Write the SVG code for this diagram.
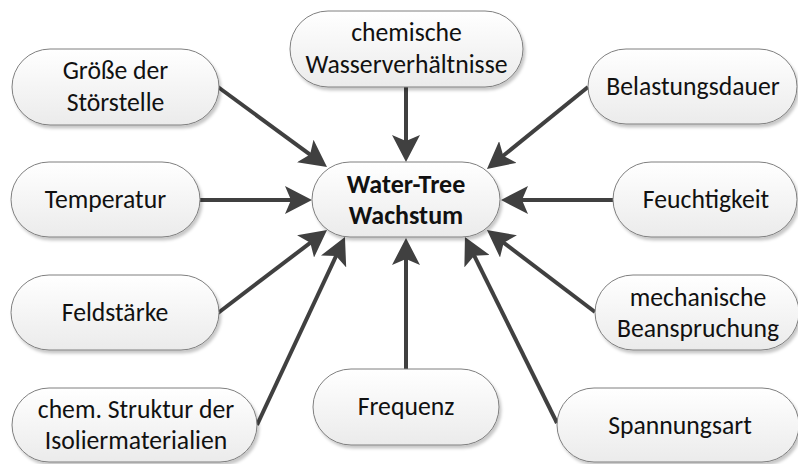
<svg xmlns="http://www.w3.org/2000/svg" width="798" height="464" viewBox="0 0 798 464">
<style>
.box{fill:url(#g);stroke:#7f7f7f;stroke-width:1;filter:url(#sh)}
.t{font-family:"Carlito","Liberation Sans",Arial,sans-serif;font-size:25.7px;fill:#111;text-anchor:middle}
.b{font-weight:bold;font-size:26px}
.c{stroke:#404040;stroke-width:4;fill:none;marker-end:url(#ah)}
</style>
<defs>
<linearGradient id="g" x1="0" y1="0" x2="0" y2="1">
<stop offset="0" stop-color="#ffffff"/>
<stop offset="1" stop-color="#ebebeb"/>
</linearGradient>
<filter id="sh" x="-10%" y="-20%" width="125%" height="150%">
<feDropShadow dx="2" dy="3" stdDeviation="1.5" flood-color="#000" flood-opacity="0.22"/>
</filter>
<marker id="ah" markerUnits="userSpaceOnUse" viewBox="0 0 27 28" markerWidth="27" markerHeight="28" refX="12" refY="14" orient="auto">
<path d="M0,0 L27,14 L0,28 L6,14 Z" fill="#404040"/>
</marker>
</defs>
<rect width="798" height="464" fill="#fff"/>
<g id="connectors">
<line class="c" x1="218" y1="87" x2="314.9" y2="158.1"/>
<line class="c" x1="406" y1="87" x2="406" y2="147"/>
<line class="c" x1="588" y1="87" x2="498.6" y2="159.5"/>
<line class="c" x1="200" y1="200" x2="297" y2="200"/>
<line class="c" x1="613" y1="200" x2="516" y2="200"/>
<line class="c" x1="218" y1="313" x2="315.1" y2="239.1"/>
<line class="c" x1="257" y1="425" x2="338.6" y2="250.6"/>
<line class="c" x1="406" y1="369" x2="406" y2="253"/>
<line class="c" x1="595" y1="312" x2="498.9" y2="239.1"/>
<line class="c" x1="557" y1="423" x2="471.6" y2="250.4"/>
</g>
<g id="n-groesse"><rect class="box" x="12" y="49" width="207" height="76" rx="38"/><text class="t" x="115.5" y="79">Größe der</text><text class="t" x="115.5" y="111">Störstelle</text></g>
<g id="n-wasser"><rect class="box" x="290" y="11" width="233" height="76" rx="38"/><text class="t" x="406.5" y="41">chemische</text><text class="t" x="406.5" y="73">Wasserverhältnisse</text></g>
<g id="n-belastung"><rect class="box" x="588" y="49" width="209" height="75" rx="38"/><text class="t" x="693" y="95">Belastungsdauer</text></g>
<g id="n-temperatur"><rect class="box" x="11" y="162" width="189" height="75" rx="38"/><text class="t" x="105.5" y="208">Temperatur</text></g>
<g id="n-center"><rect class="box" x="312" y="162" width="188" height="75" rx="38"/><text class="t b" x="406" y="193">Water-Tree</text><text class="t b" x="406" y="224">Wachstum</text></g>
<g id="n-feuchtigkeit"><rect class="box" x="613" y="162" width="184" height="75" rx="38"/><text class="t" x="706" y="208">Feuchtigkeit</text></g>
<g id="n-feldstaerke"><rect class="box" x="11" y="275" width="208" height="75" rx="38"/><text class="t" x="115" y="321">Feldstärke</text></g>
<g id="n-struktur"><rect class="box" x="12" y="388" width="245" height="74" rx="37"/><text class="t" x="136" y="418">chem. Struktur der</text><text class="t" x="136" y="449">Isoliermaterialien</text></g>
<g id="n-frequenz"><rect class="box" x="313" y="369" width="186" height="76" rx="38"/><text class="t" x="406" y="415">Frequenz</text></g>
<g id="n-mechanisch"><rect class="box" x="595" y="275" width="204" height="75" rx="38"/><text class="t" x="698" y="306">mechanische</text><text class="t" x="698" y="337">Beanspruchung</text></g>
<g id="n-spannung"><rect class="box" x="557" y="388" width="242" height="74" rx="37"/><text class="t" x="680" y="434">Spannungsart</text></g>
</svg>
